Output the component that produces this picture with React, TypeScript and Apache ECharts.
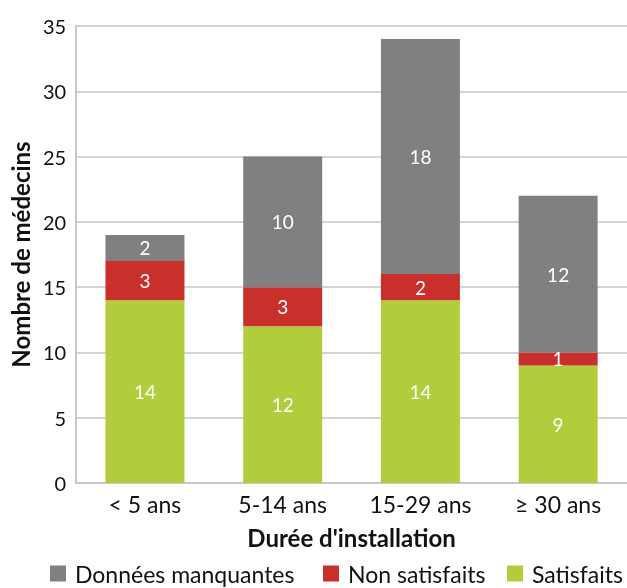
import React, { useEffect, useRef } from "react";
import * as echarts from "echarts";

const categories = ["< 5 ans", "5-14 ans", "15-29 ans", "≥ 30 ans"];
const satisfaits = [14, 12, 14, 9];
const nonSatisfaits = [3, 3, 2, 1];
const donneesManquantes = [2, 10, 18, 12];
const yTicks = [0, 5, 10, 15, 20, 25, 30, 35];

const legendNames = ["Données manquantes", "Non satisfaits", "Satisfaits"];
const legendLeft = [50, 323, 507];

const FONT = "Lato";

export default function App() {
  const ref = useRef<HTMLDivElement>(null);

  useEffect(() => {
    if (!ref.current) return;
    const chart = echarts.init(ref.current, null, { renderer: "svg" });
    const label = {
      show: true,
      position: "inside" as const,
      color: "#ffffff",
      fontFamily: FONT,
      fontSize: 19,
    };
    chart.setOption({
      animation: false,
      textStyle: { fontFamily: FONT },
      grid: { left: 76, right: 0, top: 26, bottom: 105, containLabel: false },
      xAxis: {
        type: "category",
        data: categories,
        axisLine: { show: true, lineStyle: { color: "#c8c8c8", width: 2 } },
        axisTick: { show: false },
        axisLabel: { color: "#111", fontSize: 23, fontFamily: FONT, margin: 9 },
        name: "Durée d'installation",
        nameLocation: "middle",
        nameGap: 42,
        nameTextStyle: { color: "#111", fontSize: 24, fontWeight: "bold", fontFamily: FONT },
      },
      yAxis: {
        type: "value",
        min: yTicks[0],
        max: yTicks[yTicks.length - 1],
        interval: 5,
        axisLine: { show: true, lineStyle: { color: "#c8c8c8", width: 2 } },
        axisTick: { show: false },
        splitLine: { lineStyle: { color: "#d4d4d4", width: 2 } },
        axisLabel: { color: "#111", fontSize: 20, fontFamily: FONT, margin: 10 },
        name: "Nombre de médecins",
        nameLocation: "middle",
        nameGap: 44,
        nameRotate: 90,
        nameTextStyle: { color: "#111", fontSize: 24, fontWeight: "bold", fontFamily: FONT },
      },
      legend: legendNames.map((name, i) => ({
        top: 562,
        left: legendLeft[i],
        icon: "rect",
        itemWidth: 16,
        itemHeight: 16,
        padding: 0,
        textStyle: { color: "#111", fontSize: 23, fontFamily: FONT, padding: [0, 0, 0, 4] },
        data: [name],
      })),
      series: [
        {
          name: "Satisfaits",
          type: "bar",
          stack: "total",
          barWidth: 79,
          data: satisfaits,
          itemStyle: { color: "#b2cd3b" },
          label,
        },
        {
          name: "Non satisfaits",
          type: "bar",
          stack: "total",
          barWidth: 79,
          data: nonSatisfaits,
          itemStyle: { color: "#c9302b" },
          label,
        },
        {
          name: "Données manquantes",
          type: "bar",
          stack: "total",
          barWidth: 79,
          data: donneesManquantes,
          itemStyle: { color: "#808080" },
          label,
        },
      ],
    });
    return () => chart.dispose();
  }, []);

  return (
    <div
      ref={ref}
      style={{ position: "fixed", left: 0, top: 0, width: 627, height: 588 }}
    />
  );
}
